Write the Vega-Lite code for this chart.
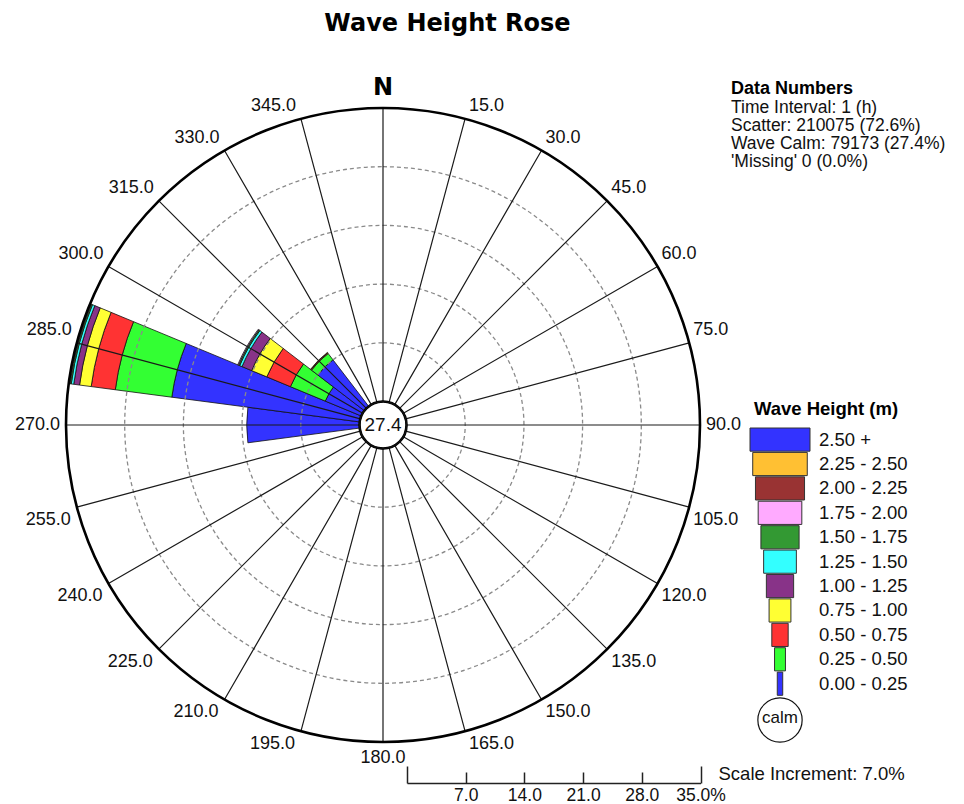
{
  "$schema": "https://vega.github.io/schema/vega-lite/v6.json",
  "width": 634,
  "height": 634,
  "autosize": {"type": "none"},
  "padding": {"left": 66, "top": 108, "right": 264, "bottom": 62},
  "background": "white",
  "config": {"view": {"stroke": null}, "font": "Liberation Sans"},
  "title": {"text": "Wave Height Rose", "font": "DejaVu Sans", "fontSize": 24, "fontWeight": "bold", "color": "#000", "anchor": "middle", "frame": "group", "dx": 64.5, "offset": 40},
  "resolve": {"scale": {"x": "independent", "y": "independent"}, "axis": {"x": "independent", "y": "independent"}},
  "layer": [
    {
      "data": {"values": [
        {"dir": 270, "dir_from": 262.5, "dir_to": 277.5, "bin": "0.00 - 0.25", "pct": 13.45},
        {"dir": 285, "dir_from": 277.5, "dir_to": 292.5, "bin": "0.00 - 0.25", "pct": 22.6},
        {"dir": 285, "dir_from": 277.5, "dir_to": 292.5, "bin": "0.25 - 0.50", "pct": 6.8},
        {"dir": 285, "dir_from": 277.5, "dir_to": 292.5, "bin": "0.50 - 0.75", "pct": 2.9},
        {"dir": 285, "dir_from": 277.5, "dir_to": 292.5, "bin": "0.75 - 1.00", "pct": 1.4},
        {"dir": 285, "dir_from": 277.5, "dir_to": 292.5, "bin": "1.00 - 1.25", "pct": 0.7},
        {"dir": 285, "dir_from": 277.5, "dir_to": 292.5, "bin": "1.25 - 1.50", "pct": 0.3},
        {"dir": 285, "dir_from": 277.5, "dir_to": 292.5, "bin": "1.50 - 1.75", "pct": 0.15},
        {"dir": 285, "dir_from": 277.5, "dir_to": 292.5, "bin": "1.75 - 2.00", "pct": 0.1},
        {"dir": 300, "dir_from": 292.5, "dir_to": 307.5, "bin": "0.00 - 0.25", "pct": 4.65},
        {"dir": 300, "dir_from": 292.5, "dir_to": 307.5, "bin": "0.25 - 0.50", "pct": 4.5},
        {"dir": 300, "dir_from": 292.5, "dir_to": 307.5, "bin": "0.50 - 0.75", "pct": 3.05},
        {"dir": 300, "dir_from": 292.5, "dir_to": 307.5, "bin": "0.75 - 1.00", "pct": 1.95},
        {"dir": 300, "dir_from": 292.5, "dir_to": 307.5, "bin": "1.00 - 1.25", "pct": 1.25},
        {"dir": 300, "dir_from": 292.5, "dir_to": 307.5, "bin": "1.25 - 1.50", "pct": 0.3},
        {"dir": 300, "dir_from": 292.5, "dir_to": 307.5, "bin": "1.50 - 1.75", "pct": 0.15},
        {"dir": 300, "dir_from": 292.5, "dir_to": 307.5, "bin": "1.75 - 2.00", "pct": 0.1},
        {"dir": 315, "dir_from": 307.5, "dir_to": 322.5, "bin": "0.00 - 0.25", "pct": 7.0},
        {"dir": 315, "dir_from": 307.5, "dir_to": 322.5, "bin": "0.25 - 0.50", "pct": 0.95},
        {"dir": 315, "dir_from": 307.5, "dir_to": 322.5, "bin": "0.50 - 0.75", "pct": 0.1},
        {"dir": 315, "dir_from": 307.5, "dir_to": 322.5, "bin": "0.75 - 1.00", "pct": 0.05}
      ]},
      "transform": [{"stack": "pct", "groupby": ["dir"], "sort": [{"field": "bin", "order": "ascending"}], "as": ["r0", "r1"]}],
      "mark": {"type": "arc", "stroke": "#111", "strokeWidth": 0.8},
      "encoding": {
        "theta": {"field": "dir_from", "type": "quantitative", "stack": null, "scale": {"domain": [0, 360]}},
        "theta2": {"field": "dir_to"},
        "radius": {"field": "r1", "type": "quantitative", "stack": null, "scale": {"type": "linear", "domain": [0, 35], "range": [23.5, 317], "zero": false}},
        "radius2": {"field": "r0"},
        "color": {"field": "bin", "type": "nominal", "legend": null,
          "scale": {"domain": ["0.00 - 0.25", "0.25 - 0.50", "0.50 - 0.75", "0.75 - 1.00", "1.00 - 1.25", "1.25 - 1.50", "1.50 - 1.75", "1.75 - 2.00", "2.00 - 2.25", "2.25 - 2.50", "2.50 +"],
                    "range": ["#3333FF", "#33FF33", "#FF3333", "#FFFF33", "#883388", "#33FFFF", "#339933", "#FFAAFF", "#993333", "#FFC033", "#3333FF"]}}
      }
    },
    {
      "data": {"values": [{"ring": 7}, {"ring": 14}, {"ring": 21}, {"ring": 28}]},
      "mark": {"type": "arc", "theta": 0, "theta2": 6.2832, "filled": false, "stroke": "#8a8a8a", "strokeWidth": 1.3, "strokeDash": [4, 3]},
      "encoding": {"radius": {"field": "ring", "type": "quantitative", "stack": null}}
    },
    {
      "data": {"values": [{"a": 0}, {"a": 15}, {"a": 30}, {"a": 45}, {"a": 60}, {"a": 75}, {"a": 90}, {"a": 105}, {"a": 120}, {"a": 135}, {"a": 150}, {"a": 165}, {"a": 180}, {"a": 195}, {"a": 210}, {"a": 225}, {"a": 240}, {"a": 255}, {"a": 270}, {"a": 285}, {"a": 300}, {"a": 315}, {"a": 330}, {"a": 345}]},
      "mark": {"type": "arc", "filled": false, "stroke": "#1a1a1a", "strokeWidth": 1.2},
      "encoding": {
        "theta": {"field": "a", "type": "quantitative", "stack": null},
        "theta2": {"field": "a"},
        "radius": {"datum": 35},
        "radius2": {"datum": 0}
      }
    },
    {
      "data": {"values": [{"ring": 35}]},
      "mark": {"type": "arc", "theta": 0, "theta2": 6.2832, "filled": false, "stroke": "#000", "strokeWidth": 2.6},
      "encoding": {"radius": {"field": "ring", "type": "quantitative", "stack": null}}
    },
    {
      "data": {"values": [{"calm_pct": 27.4}]},
      "layer": [
        {"mark": {"type": "arc", "theta": 0, "theta2": 6.2832, "fill": "white", "stroke": "#111", "strokeWidth": 1.2},
         "encoding": {"radius": {"datum": 0}}},
        {"mark": {"type": "text", "fontSize": 19, "align": "center", "baseline": "middle", "color": "#111"},
         "encoding": {"text": {"field": "calm_pct", "type": "quantitative", "format": ".1f"}}}
      ]
    },
    {
      "data": {"values": [{"a": 0}]},
      "mark": {"type": "text", "font": "DejaVu Sans", "fontSize": 24, "fontWeight": "bold", "align": "center", "baseline": "alphabetic", "dy": -13, "color": "#000"},
      "encoding": {"theta": {"field": "a", "type": "quantitative"}, "radius": {"datum": 35}, "text": {"value": "N"}}
    },
    {
      "data": {"values": [{"a": 15}, {"a": 30}, {"a": 45}, {"a": 60}, {"a": 75}, {"a": 90}, {"a": 105}, {"a": 120}, {"a": 135}, {"a": 150}, {"a": 165}, {"a": 180}, {"a": 195}, {"a": 210}, {"a": 225}, {"a": 240}, {"a": 255}, {"a": 270}, {"a": 285}, {"a": 300}, {"a": 315}, {"a": 330}, {"a": 345}]},
      "encoding": {
        "theta": {"field": "a", "type": "quantitative"},
        "radius": {"datum": 35},
        "text": {"field": "a", "type": "quantitative", "format": ".1f"}
      },
      "layer": [
        {"transform": [{"filter": "datum.a > 0 && datum.a < 90"}],
         "mark": {"type": "text", "fontSize": 18, "color": "#111", "align": "left", "baseline": "alphabetic", "dx": 4, "dy": -7.5}},
        {"transform": [{"filter": "datum.a == 90"}],
         "mark": {"type": "text", "fontSize": 18, "color": "#111", "align": "left", "baseline": "middle", "dx": 6}},
        {"transform": [{"filter": "datum.a > 90 && datum.a < 180"}],
         "mark": {"type": "text", "fontSize": 18, "color": "#111", "align": "left", "baseline": "top", "dx": 4, "dy": 3.5}},
        {"transform": [{"filter": "datum.a == 180"}],
         "mark": {"type": "text", "fontSize": 18, "color": "#111", "align": "center", "baseline": "top", "dy": 7}},
        {"transform": [{"filter": "datum.a > 180 && datum.a < 270"}],
         "mark": {"type": "text", "fontSize": 18, "color": "#111", "align": "right", "baseline": "top", "dx": -6, "dy": 3.5}},
        {"transform": [{"filter": "datum.a == 270"}],
         "mark": {"type": "text", "fontSize": 18, "color": "#111", "align": "right", "baseline": "middle", "dx": -6}},
        {"transform": [{"filter": "datum.a > 270"}],
         "mark": {"type": "text", "fontSize": 18, "color": "#111", "align": "right", "baseline": "alphabetic", "dx": -5, "dy": -7.5}}
      ]
    },
    {
      "data": {"values": [
        {"bin": "2.50 +", "upper": 2.75},
        {"bin": "2.25 - 2.50", "upper": 2.5},
        {"bin": "2.00 - 2.25", "upper": 2.25},
        {"bin": "1.75 - 2.00", "upper": 2.0},
        {"bin": "1.50 - 1.75", "upper": 1.75},
        {"bin": "1.25 - 1.50", "upper": 1.5},
        {"bin": "1.00 - 1.25", "upper": 1.25},
        {"bin": "0.75 - 1.00", "upper": 1.0},
        {"bin": "0.50 - 0.75", "upper": 0.75},
        {"bin": "0.25 - 0.50", "upper": 0.5},
        {"bin": "0.00 - 0.25", "upper": 0.25}
      ]},
      "encoding": {
        "y": {"field": "bin", "type": "ordinal", "axis": null,
              "scale": {"type": "band", "domain": ["2.50 +", "2.25 - 2.50", "2.00 - 2.25", "1.75 - 2.00", "1.50 - 1.75", "1.25 - 1.50", "1.00 - 1.25", "0.75 - 1.00", "0.50 - 0.75", "0.25 - 0.50", "0.00 - 0.25"],
                        "range": [320, 587.3], "paddingInner": 0.05, "paddingOuter": 0}}
      },
      "layer": [
        {"mark": {"type": "bar", "stroke": "#333", "strokeWidth": 1},
         "encoding": {
           "x": {"field": "upper", "type": "quantitative", "stack": "center", "axis": null, "scale": {"domain": [0, 2.75], "range": [684, 744], "nice": false, "zero": false}},
           "color": {"field": "bin", "type": "nominal", "legend": null}
         }},
        {"mark": {"type": "text", "align": "left", "baseline": "middle", "dx": 9, "fontSize": 18.5, "color": "#111"},
         "encoding": {"x": {"datum": 2.75}, "text": {"field": "bin"}}},
        {"transform": [{"filter": "datum.bin == '0.00 - 0.25'"}],
         "mark": {"type": "point", "shape": "circle", "size": 1963, "filled": true, "fill": "white", "stroke": "#111", "strokeWidth": 1.2, "opacity": 1, "yOffset": 36.3},
         "encoding": {"x": {"datum": 1.375}}},
        {"transform": [{"filter": "datum.bin == '0.00 - 0.25'"}],
         "mark": {"type": "text", "align": "center", "baseline": "middle", "fontSize": 17, "color": "#111", "yOffset": 34.6},
         "encoding": {"x": {"datum": 1.375}, "text": {"value": "calm"}}},
        {"transform": [{"filter": "datum.bin == '2.50 +'"}],
         "mark": {"type": "text", "align": "center", "baseline": "alphabetic", "fontSize": 18.5, "fontWeight": "bold", "color": "#000", "dx": 46, "dy": -24.6},
         "encoding": {"x": {"datum": 1.375}, "text": {"value": "Wave Height (m)"}}},
        {"transform": [{"filter": "datum.bin == '2.50 +'"}],
         "mark": {"type": "text", "align": "left", "baseline": "alphabetic", "fontSize": 18, "fontWeight": "bold", "color": "#000", "dx": -19, "dy": -345.6},
         "encoding": {"x": {"datum": 0}, "text": {"value": "Data Numbers"}}},
        {"transform": [{"filter": "datum.bin == '2.50 +'"}],
         "mark": {"type": "text", "align": "left", "baseline": "alphabetic", "fontSize": 17.5, "lineHeight": 18.2, "color": "#111", "dx": -19, "dy": -326.9},
         "encoding": {"x": {"datum": 0}, "text": {"value": ["Time Interval: 1 (h)", "Scatter: 210075 (72.6%)", "Wave Calm: 79173 (27.4%)", "'Missing' 0 (0.0%)"]}}}
      ]
    },
    {
      "data": {"values": [{"v": 0}, {"v": 7}, {"v": 14}, {"v": 21}, {"v": 28}, {"v": 35}]},
      "mark": {"type": "point", "opacity": 0},
      "encoding": {
        "x": {"field": "v", "type": "quantitative",
              "scale": {"domain": [0, 35], "range": [341, 634.5], "nice": false, "zero": false},
              "axis": {"orient": "bottom", "offset": 41, "values": [0, 7, 14, 21, 28, 35], "grid": false,
                       "domainColor": "#222", "domainWidth": 1.5, "tickColor": "#222", "tickWidth": 1.5,
                       "tickSize": {"condition": {"test": "datum.value === 0 || datum.value === 35", "value": -17}, "value": -11},
                       "labelPadding": {"condition": {"test": "datum.value === 0 || datum.value === 35", "value": 20}, "value": 14},
                       "labelExpr": "datum.value === 0 ? '' : datum.value === 35 ? '35.0%' : format(datum.value, '.1f')",
                       "labelFlush": false, "labelOverlap": false, "labelFontSize": 17.5, "labelColor": "#111", "labelFont": "Liberation Sans",
                       "title": "Scale Increment: 7.0%", "titleFont": "Liberation Sans", "titleFontSize": 18.5, "titleFontWeight": "normal", "titleColor": "#111",
                       "titleX": 652, "titleY": -10, "titleAlign": "left", "titleBaseline": "middle", "titleAngle": 0}}
      }
    }
  ]
}
